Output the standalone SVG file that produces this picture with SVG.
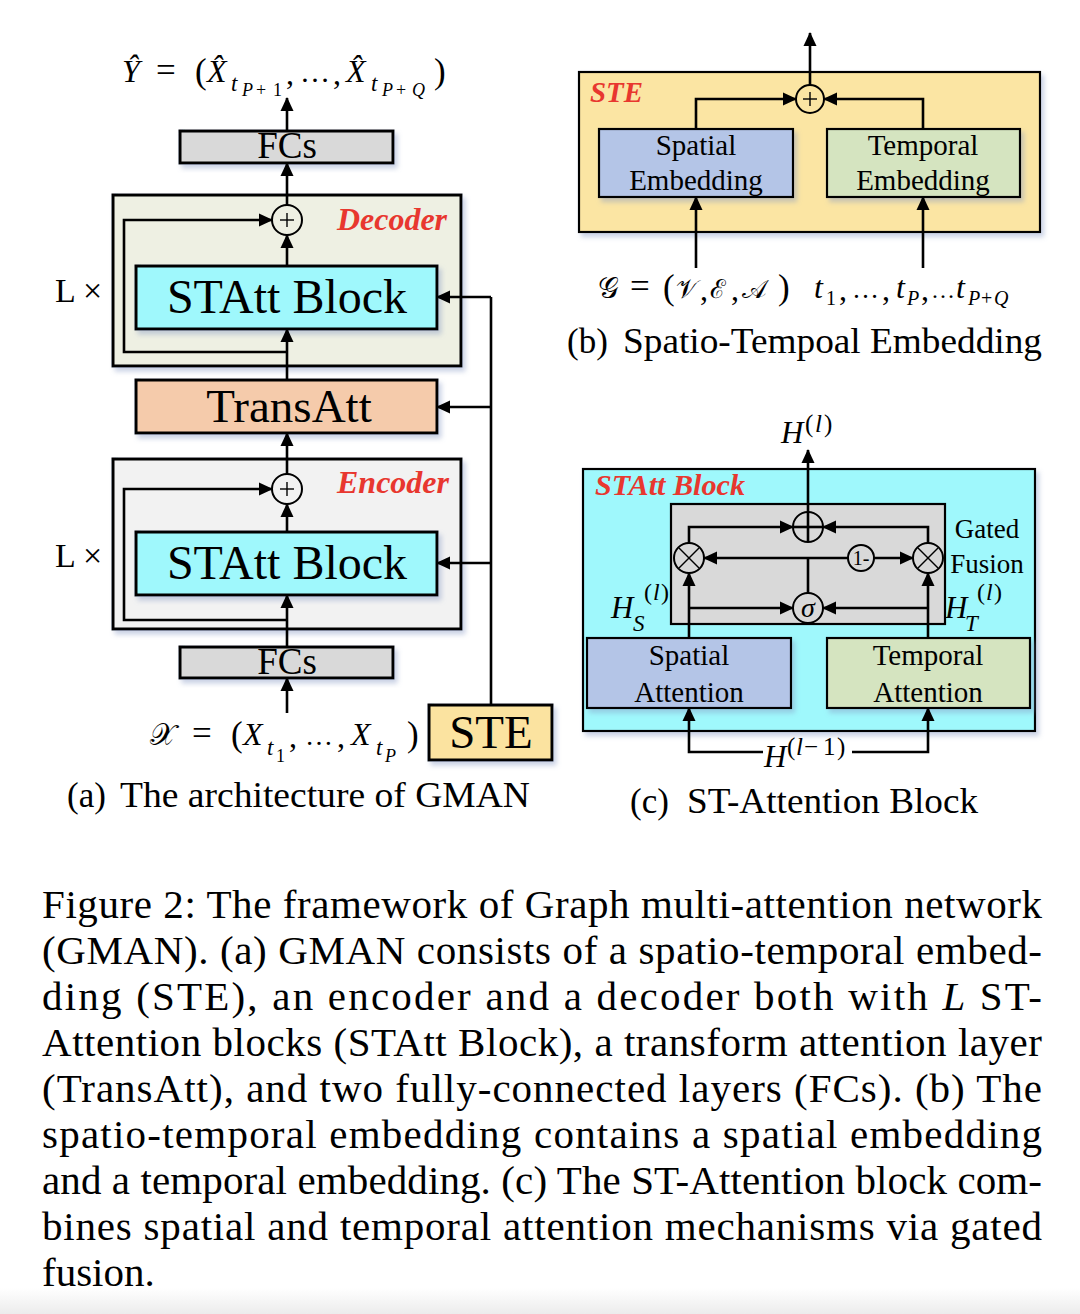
<svg xmlns="http://www.w3.org/2000/svg" width="1080" height="1314" viewBox="0 0 1080 1314">
<defs>
<marker id="ah" markerUnits="userSpaceOnUse" markerWidth="14" markerHeight="14" refX="13" refY="7" orient="auto">
<path d="M0,0.5 L14,7 L0,13.5 z" fill="#000"/>
</marker>
<filter id="sh" x="-10%" y="-10%" width="125%" height="140%">
<feDropShadow dx="3" dy="4" stdDeviation="2.5" flood-color="#8799c4" flood-opacity="0.45"/>
</filter>
<linearGradient id="btm" x1="0" y1="0" x2="0" y2="1">
<stop offset="0" stop-color="#ffffff"/>
<stop offset="1" stop-color="#ececec"/>
</linearGradient>
</defs>
<style>
.t{font-family:"Liberation Serif","Times New Roman",serif;fill:#000}
.m{font-family:"Liberation Serif","DejaVu Serif",serif;fill:#000}
.sc{font-family:"DejaVu Serif",serif}
.i{font-style:italic}
.red{font-family:"Liberation Serif",serif;font-weight:bold;font-style:italic;fill:#e8372f}
.box{stroke:#000;stroke-width:3}
.box2{stroke:#000;stroke-width:2.2}
.ln{fill:none;stroke:#000;stroke-width:2.6}
.ar{fill:none;stroke:#000;stroke-width:2.6;marker-end:url(#ah)}
.cir{fill:none;stroke:#000;stroke-width:2}
.sym{stroke:#000;stroke-width:1.4}
.sym2{stroke:#000;stroke-width:2.6}
</style>
<rect x="0" y="0" width="1080" height="1314" fill="#fff"/>
<rect x="0" y="1288" width="1080" height="26" fill="url(#btm)"/>

<!-- (a) architecture -->
<g id="node-output-formula">
<text class="m" font-size="32"><tspan class="i" x="122" y="82">Ŷ</tspan><tspan font-size="35" x="156" y="82">=</tspan><tspan font-size="35" x="195" y="83">(</tspan><tspan class="i" x="207" y="82">X̂</tspan><tspan class="i" font-size="23" x="231" y="91">t</tspan><tspan class="i" font-size="18" x="242" y="96">P</tspan><tspan font-size="18" x="256" y="96">+</tspan><tspan font-size="18" x="273" y="96">1</tspan><tspan x="286" y="84">,</tspan><tspan font-size="30" x="300" y="82">…</tspan><tspan x="333" y="84">,</tspan><tspan class="i" x="346" y="82">X̂</tspan><tspan class="i" font-size="23" x="371" y="91">t</tspan><tspan class="i" font-size="18" x="382" y="96">P</tspan><tspan font-size="18" x="396" y="96">+</tspan><tspan class="i" font-size="18" x="412" y="96">Q</tspan><tspan font-size="35" x="434" y="83">)</tspan></text>
</g>
<g id="node-fcs-top">
<rect x="180" y="131" width="213" height="32" fill="#d9d9d9" class="box" filter="url(#sh)"/>
<text class="t" x="287" y="158" font-size="37" text-anchor="middle">FCs</text>
</g>
<g id="node-decoder">
<rect x="113" y="195" width="348" height="171" fill="#eef0e3" class="box" filter="url(#sh)"/>
<text class="red" x="337" y="230" font-size="31" textLength="110" lengthAdjust="spacingAndGlyphs">Decoder</text>
<text class="t" x="55" y="302" font-size="34">L ×</text>
</g>
<g id="node-dec-add">
<circle cx="287" cy="220" r="15" class="cir"/>
<line x1="280" y1="220" x2="294" y2="220" class="sym"/><line x1="287" y1="213" x2="287" y2="227" class="sym"/>
</g>
<g id="node-dec-statt">
<rect x="136" y="266" width="301" height="63" fill="#9ff8fc" class="box" filter="url(#sh)"/>
<text class="t" x="287" y="313" font-size="48" text-anchor="middle">STAtt Block</text>
</g>
<g id="node-transatt">
<rect x="136" y="380" width="301" height="53" fill="#f5cbab" class="box" filter="url(#sh)"/>
<text class="t" x="289" y="422" font-size="47" text-anchor="middle">TransAtt</text>
</g>
<g id="node-encoder">
<rect x="113" y="459" width="348" height="170" fill="#f2f2f2" class="box" filter="url(#sh)"/>
<text class="red" x="337" y="493" font-size="31" textLength="112" lengthAdjust="spacingAndGlyphs">Encoder</text>
<text class="t" x="55" y="567" font-size="34">L ×</text>
</g>
<g id="node-enc-add">
<circle cx="287" cy="489" r="15" class="cir"/>
<line x1="280" y1="489" x2="294" y2="489" class="sym"/><line x1="287" y1="482" x2="287" y2="496" class="sym"/>
</g>
<g id="node-enc-statt">
<rect x="136" y="532" width="301" height="63" fill="#9ff8fc" class="box" filter="url(#sh)"/>
<text class="t" x="287" y="579" font-size="48" text-anchor="middle">STAtt Block</text>
</g>
<g id="node-fcs-bottom">
<rect x="180" y="647" width="213" height="31" fill="#d9d9d9" class="box" filter="url(#sh)"/>
<text class="t" x="287" y="674" font-size="37" text-anchor="middle">FCs</text>
</g>
<g id="node-input-formula">
<text class="m" font-size="32"><tspan class="sc" font-size="30" x="150" y="745">𝒳</tspan><tspan font-size="35" x="192" y="745">=</tspan><tspan font-size="35" x="231" y="746">(</tspan><tspan class="i" x="243" y="745">X</tspan><tspan class="i" font-size="23" x="267" y="755">t</tspan><tspan font-size="18" x="276" y="762">1</tspan><tspan x="289" y="747">,</tspan><tspan font-size="28" x="305" y="745">…</tspan><tspan x="337" y="747">,</tspan><tspan class="i" x="351" y="745">X</tspan><tspan class="i" font-size="23" x="376" y="755">t</tspan><tspan class="i" font-size="18" x="385" y="762">P</tspan><tspan font-size="35" x="407" y="746">)</tspan></text>
</g>
<g id="node-ste-a">
<rect x="429" y="705" width="123" height="55" fill="#fbe3a0" class="box" filter="url(#sh)"/>
<text class="t" x="491" y="748" font-size="47" text-anchor="middle">STE</text>
</g>
<text class="t" font-size="35"><tspan x="67" y="807">(a)</tspan><tspan x="120" y="807" textLength="410" lengthAdjust="spacingAndGlyphs">The architecture of GMAN</tspan></text>

<!-- (b) STE -->
<g id="node-ste-b">
<rect x="579" y="72" width="461" height="160" fill="#fbe5a3" class="box2" filter="url(#sh)"/>
<text class="red" x="590" y="102" font-size="29" textLength="53" lengthAdjust="spacingAndGlyphs">STE</text>
</g>
<g id="node-ste-add">
<circle cx="810" cy="99" r="14" class="cir"/>
<line x1="803" y1="99" x2="817" y2="99" class="sym"/><line x1="810" y1="92" x2="810" y2="106" class="sym"/>
</g>
<g id="node-spatial-emb">
<rect x="599" y="129" width="194" height="68" fill="#b4c5e7" class="box2" filter="url(#sh)"/>
<text class="t" font-size="29" text-anchor="middle"><tspan x="696" y="155">Spatial</tspan><tspan x="696" y="190">Embedding</tspan></text>
</g>
<g id="node-temporal-emb">
<rect x="827" y="129" width="193" height="68" fill="#d5e4c0" class="box2" filter="url(#sh)"/>
<text class="t" font-size="29" text-anchor="middle"><tspan x="923" y="155">Temporal</tspan><tspan x="923" y="190">Embedding</tspan></text>
</g>
<g id="node-ste-inputs">
<text class="m" font-size="32"><tspan class="sc" font-size="29" x="598" y="298">𝒢</tspan><tspan font-size="35" x="630" y="298">=</tspan><tspan font-size="35" x="663" y="299">(</tspan><tspan class="sc" font-size="26" x="676" y="298">𝒱</tspan><tspan x="700" y="300">,</tspan><tspan class="sc" font-size="26" x="710" y="298">ℰ</tspan><tspan x="731" y="300">,</tspan><tspan class="sc" font-size="26" x="742" y="298">𝒜</tspan><tspan font-size="35" x="778" y="299">)</tspan><tspan class="i" x="814" y="298">t</tspan><tspan font-size="20" x="826" y="305">1</tspan><tspan x="839" y="300">,</tspan><tspan font-size="27" x="852" y="298">…</tspan><tspan x="882" y="300">,</tspan><tspan class="i" x="896" y="298">t</tspan><tspan class="i" font-size="20" x="907" y="305">P</tspan><tspan x="921" y="300">,</tspan><tspan font-size="24" x="931" y="298">…</tspan><tspan class="i" x="956" y="298">t</tspan><tspan class="i" font-size="20" x="968" y="305">P</tspan><tspan font-size="20" x="981" y="305">+</tspan><tspan class="i" font-size="20" x="994" y="305">Q</tspan></text>
</g>
<text class="t" font-size="35"><tspan x="567" y="353">(b)</tspan><tspan x="623" y="353" textLength="419" lengthAdjust="spacingAndGlyphs">Spatio-Tempoal Embedding</tspan></text>

<!-- (c) STAtt Block -->
<g id="node-statt-c">
<rect x="583" y="469" width="452" height="262" fill="#9ff8fc" class="box2" filter="url(#sh)"/>
<text class="red" x="595" y="495" font-size="29" textLength="150" lengthAdjust="spacingAndGlyphs">STAtt Block</text>
</g>
<g id="node-gated-fusion">
<rect x="671" y="504" width="274" height="120" fill="#d9d9d9" class="box2"/>
<text class="t" font-size="27" text-anchor="middle"><tspan x="987" y="538">Gated</tspan><tspan x="987" y="573">Fusion</tspan></text>
</g>
<g id="node-c-add">
<circle cx="808" cy="527" r="15" class="cir"/>
<line x1="794" y1="527" x2="822" y2="527" class="sym2"/><line x1="808" y1="513" x2="808" y2="541" class="sym2"/>
</g>
<g id="node-c-mul-s">
<circle cx="689" cy="558" r="15" class="cir"/>
<line x1="679" y1="548" x2="699" y2="568" class="sym"/><line x1="699" y1="548" x2="679" y2="568" class="sym"/>
</g>
<g id="node-c-mul-t">
<circle cx="928" cy="558" r="15" class="cir"/>
<line x1="918" y1="548" x2="938" y2="568" class="sym"/><line x1="938" y1="548" x2="918" y2="568" class="sym"/>
</g>
<g id="node-c-one-minus">
<circle cx="861" cy="558" r="13" class="cir"/>
<text class="t" x="861" y="565" font-size="20" text-anchor="middle">1-</text>
</g>
<g id="node-c-sigma">
<circle cx="808" cy="608" r="15" class="cir"/>
<text class="m i" x="808" y="617" font-size="28" text-anchor="middle">σ</text>
</g>
<g id="node-spatial-att">
<rect x="587" y="638" width="204" height="70" fill="#b4c5e7" class="box2" filter="url(#sh)"/>
<text class="t" font-size="29" text-anchor="middle"><tspan x="689" y="665">Spatial</tspan><tspan x="689" y="702">Attention</tspan></text>
</g>
<g id="node-temporal-att">
<rect x="827" y="638" width="203" height="70" fill="#d5e4c0" class="box2" filter="url(#sh)"/>
<text class="t" font-size="29" text-anchor="middle"><tspan x="928" y="665">Temporal</tspan><tspan x="928" y="702">Attention</tspan></text>
</g>
<g id="labels-c">
<text class="m" font-size="31"><tspan class="i" x="781" y="443">H</tspan><tspan font-size="25" x="805" y="432">(</tspan><tspan class="i" font-size="25" x="815" y="432">l</tspan><tspan font-size="25" x="824" y="432">)</tspan></text>
<text class="m" font-size="31"><tspan class="i" x="611" y="618">H</tspan><tspan class="i" font-size="23" x="633" y="631">S</tspan><tspan font-size="24" x="644" y="600">(</tspan><tspan class="i" font-size="24" x="653" y="600">l</tspan><tspan font-size="24" x="661" y="600">)</tspan></text>
<text class="m" font-size="31"><tspan class="i" x="945" y="618">H</tspan><tspan class="i" font-size="23" x="965" y="631">T</tspan><tspan font-size="24" x="977" y="600">(</tspan><tspan class="i" font-size="24" x="986" y="600">l</tspan><tspan font-size="24" x="994" y="600">)</tspan></text>
<text class="m" font-size="31"><tspan class="i" x="764" y="767">H</tspan><tspan font-size="25" x="787" y="755">(</tspan><tspan class="i" font-size="25" x="796" y="755">l</tspan><tspan font-size="25" x="804" y="755">−</tspan><tspan font-size="25" x="823" y="755">1</tspan><tspan font-size="25" x="837" y="755">)</tspan></text>
</g>
<text class="t" font-size="35"><tspan x="630" y="813">(c)</tspan><tspan x="687" y="813" textLength="291" lengthAdjust="spacingAndGlyphs">ST-Attention Block</tspan></text>

<!-- connectors -->
<g id="connectors">
<path class="ar" d="M287,131 V98"/>
<path class="ar" d="M287,205 V163"/>
<path class="ar" d="M287,266 V235"/>
<path class="ar" d="M287,380 V329"/>
<path class="ar" d="M287,352 H124 V220 H272"/>
<path class="ar" d="M287,474 V433"/>
<path class="ar" d="M287,532 V504"/>
<path class="ar" d="M287,647 V595"/>
<path class="ar" d="M287,620 H124 V489 H272"/>
<path class="ar" d="M287,713 V678"/>
<path class="ln" d="M491,705 V297"/>
<path class="ar" d="M491,297 H437"/>
<path class="ar" d="M491,407 H437"/>
<path class="ar" d="M491,563 H437"/>

<path class="ar" d="M696,268 V197"/>
<path class="ar" d="M923,268 V197"/>
<path class="ar" d="M696,129 V99 H796"/>
<path class="ar" d="M923,129 V99 H824"/>
<path class="ar" d="M810,85 V33"/>

<path class="ar" d="M808,512 V450"/>
<path class="ar" d="M689,543 V527 H793"/>
<path class="ar" d="M928,543 V527 H823"/>
<path class="ln" d="M808,593 V558"/>
<path class="ar" d="M808,558 H704"/>
<path class="ln" d="M808,558 H848"/>
<path class="ar" d="M874,558 H913"/>
<path class="ar" d="M689,638 V573"/>
<path class="ar" d="M928,638 V573"/>
<path class="ar" d="M689,608 H793"/>
<path class="ar" d="M928,608 H823"/>
<path class="ar" d="M763,752 H689 V708"/>
<path class="ar" d="M852,752 H928 V708"/>
</g>

<!-- caption -->
<g id="caption" class="t" font-size="41">
<text x="42" y="918" textLength="1000" lengthAdjust="spacing">Figure 2: The framework of Graph multi-attention network</text>
<text x="42" y="964" textLength="1000" lengthAdjust="spacing">(GMAN). (a) GMAN consists of a spatio-temporal embed-</text>
<text x="42" y="1010" textLength="1000" lengthAdjust="spacing">ding (STE), an encoder and a decoder both with <tspan font-style="italic">L</tspan> ST-</text>
<text x="42" y="1056" textLength="1000" lengthAdjust="spacing">Attention blocks (STAtt Block), a transform attention layer</text>
<text x="42" y="1102" textLength="1000" lengthAdjust="spacing">(TransAtt), and two fully-connected layers (FCs). (b) The</text>
<text x="42" y="1148" textLength="1000" lengthAdjust="spacing">spatio-temporal embedding contains a spatial embedding</text>
<text x="42" y="1194" textLength="1000" lengthAdjust="spacing">and a temporal embedding. (c) The ST-Attention block com-</text>
<text x="42" y="1240" textLength="1000" lengthAdjust="spacing">bines spatial and temporal attention mechanisms via gated</text>
<text x="42" y="1286">fusion.</text>
</g>
</svg>
